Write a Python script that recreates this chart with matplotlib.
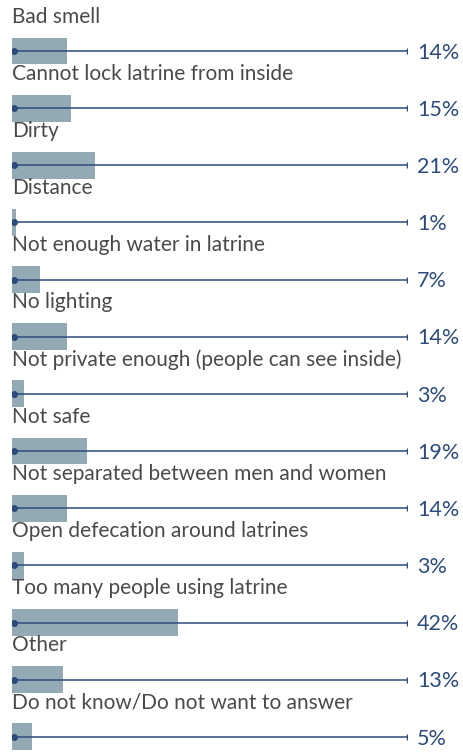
import numpy as np
import matplotlib.pyplot as plt

# Reasons for not using latrines (% of respondents)
labels = [
    "Bad smell",
    "Cannot lock latrine from inside",
    "Dirty",
    "Distance",
    "Not enough water in latrine",
    "No lighting",
    "Not private enough (people can see inside)",
    "Not safe",
    "Not separated between men and women",
    "Open defecation around latrines",
    "Too many people using latrine",
    "Other",
    "Do not know/Do not want to answer",
]
values = [14, 15, 21, 1, 7, 14, 3, 19, 14, 3, 42, 13, 5]

bar_color = "#93aab5"
line_color = "#2c4b7c"
text_color = "#4a4a4a"

W, H = 463, 752
fig = plt.figure(figsize=(W / 100, H / 100), dpi=100)
x0, x100 = 12, 407
ax = fig.add_axes([x0 / W, 0, (x100 - x0) / W, 1])
ax.set_xlim(0, 100)
pitch = 57.15
top = 51 / pitch
ax.set_ylim((H - 51) / pitch, -top)
ax.axis("off")

rows = np.arange(len(labels))
ax.barh(rows, values, height=0.47, color=bar_color, zorder=1)
ax.hlines(rows, 0, 100, color=line_color, lw=1.1, zorder=2)
ax.plot(np.full(len(rows), 0.5), rows, "o", color=line_color, ms=4, zorder=3)
ax.plot(np.full(len(rows), 100), rows, "|", color=line_color, ms=5, mew=1.0, zorder=3)

for i, (lab, v) in enumerate(zip(labels, values)):
    ax.text(0, i - 0.6, lab, ha="left", va="center", fontsize=15,
            color=text_color, family="Lato")
    ax.text(102.5, i + 0.03, f"{v}%", ha="left", va="center", fontsize=15.5,
            color=line_color, family="Lato")

fig.savefig("out.png", dpi=100)
